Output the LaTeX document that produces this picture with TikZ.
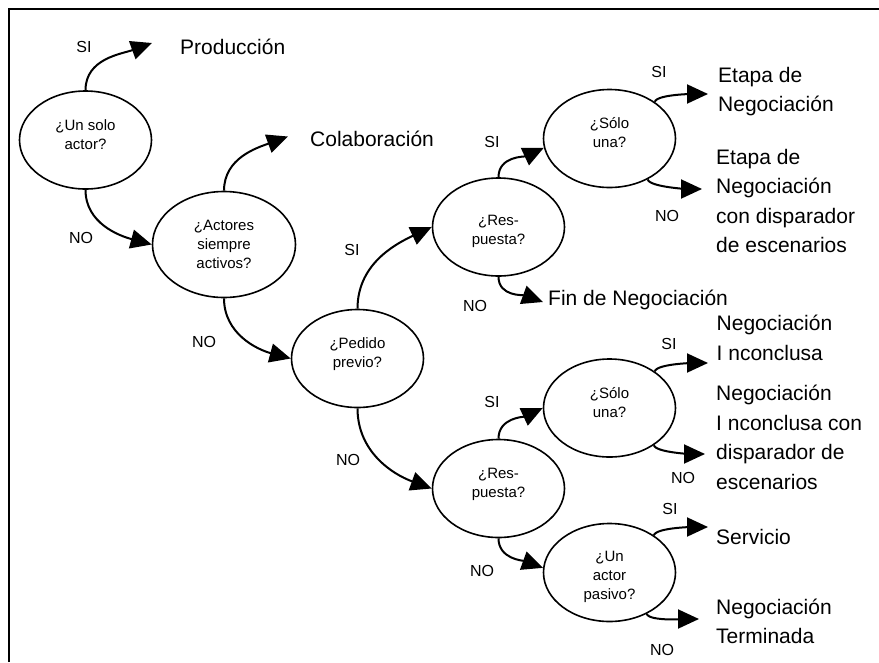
\documentclass[tikz,border=0pt]{standalone}
\usepackage{fontspec}
\setmainfont{Liberation Sans}
\usetikzlibrary{shapes.geometric,arrows.meta}
\begin{document}
\begin{tikzpicture}[x=1pt,y=1pt,
 ell/.style={ellipse,draw,line width=1.6pt,minimum width=132pt,minimum height=98pt,inner sep=0pt,text height=20pt,font=\fontsize{15}{19}\selectfont},
 outc/.style={anchor=base west,inner sep=0pt,font=\fontsize{21}{29.5}\selectfont},
 lab/.style={inner sep=0pt,font=\fontsize{16}{19}\selectfont},
 arr/.style={line width=2pt,-{Triangle[length=21pt,width=19pt]}},
 frameline/.style={line width=2pt}]
\useasboundingbox (0,-662) rectangle (879,0);
\draw[frameline] (9.2,-662) -- (9.2,-9.3) -- (879,-9.3);

% decision ellipses
\node[ell,text depth=38.6pt] (e1) at (85.5,-140) {\begin{tabular}[t]{@{}c@{}}¿Un solo\\actor?\end{tabular}};
\node[ell,minimum width=143pt,minimum height=106pt,text depth=49pt] (e2) at (224,-244.5) {\begin{tabular}[t]{@{}c@{}}¿Actores\\siempre\\activos?\end{tabular}};
\node[ell,text depth=41pt] (e3) at (357.5,-358.5) {\begin{tabular}[t]{@{}c@{}}¿Pedido\\previo?\end{tabular}};
\node[ell,text depth=24pt] (e4) at (498.5,-227) {\begin{tabular}[t]{@{}c@{}}¿Res-\\puesta?\end{tabular}};
\node[ell,text depth=41pt] (e5) at (609.5,-138.5) {\begin{tabular}[t]{@{}c@{}}¿Sólo\\una?\end{tabular}};
\node[ell,text depth=40.4pt] (e6) at (498.5,-488.5) {\begin{tabular}[t]{@{}c@{}}¿Res-\\puesta?\end{tabular}};
\node[ell,text depth=39.4pt] (e7) at (609.5,-408) {\begin{tabular}[t]{@{}c@{}}¿Sólo\\una?\end{tabular}};
\node[ell,text depth=41.6pt] (e8) at (609.5,-572.5) {\begin{tabular}[t]{@{}c@{}}¿Un\\actor\\pasivo?\end{tabular}};

% outcomes
\node[outc] (prod) at (180,-54) {Producción};
\node[outc] (colab) at (310,-146) {Colaboración};
\node[outc] (etapa1) at (718,-82) {\begin{tabular}[t]{@{}l@{}}Etapa de\\Negociación\end{tabular}};
\node[outc] (etapa2) at (716,-164.3) {\begin{tabular}[t]{@{}l@{}}Etapa de\\Negociación\\con disparador\\de escenarios\end{tabular}};
\node[outc] (fin) at (548,-305.7) {Fin de Negociación};
\node[outc] (inc1) at (716.5,-330.7) {\begin{tabular}[t]{@{}l@{}}Negociación\\I nconclusa\end{tabular}};
\node[outc] (inc2) at (716,-400.7) {\begin{tabular}[t]{@{}l@{}}Negociación\\I nconclusa con\\disparador de\\escenarios\end{tabular}};
\node[outc] (serv) at (716,-544) {Servicio};
\node[outc] (term) at (716,-614) {\begin{tabular}[t]{@{}l@{}}Negociación\\Terminada\end{tabular}};

% arrow tips near outcomes
\coordinate (tp) at (152,-43);
\coordinate (tc) at (288,-136.5);
\coordinate (tf) at (543,-302);
\coordinate (te1) at (708,-94);
\coordinate (te2) at (702,-189);
\coordinate (ti1) at (708,-363);
\coordinate (ti2) at (705,-454);
\coordinate (ts) at (708,-527);
\coordinate (tt) at (699,-619);

% connectors
\draw[arr] (e1.north) to[out=90,in=200] (tp);
\draw[arr] (e1.south) to[out=-90,in=165] (e2.west);
\draw[arr] (e2.north) to[out=90,in=200] (tc);
\draw[arr] (e2.south) to[out=-90,in=165] (e3.west);
\draw[arr] (e3.north) to[out=90,in=205] (e4.west);
\draw[arr] (e3.south) to[out=-90,in=160] (e6.west);
\draw[arr] (e4.north) to[out=90,in=205] (e5.188);
\draw[arr] (e4.south) to[out=-90,in=160] (tf);
\draw[arr] (e5.39) to[out=75,in=180,looseness=0.4] (te1);
\draw[arr] (e5.-47) to[out=-75,in=180,looseness=0.4] (te2);
\draw[arr] (e6.north) to[out=90,in=205] (e7.west);
\draw[arr] (e6.south) to[out=-90,in=160] (e8.176);
\draw[arr] (e7.39) to[out=75,in=180,looseness=0.4] (ti1);
\draw[arr] (e7.-40) to[out=-75,in=180,looseness=0.4] (ti2);
\draw[arr] (e8.40) to[out=75,in=180,looseness=0.4] (ts);
\draw[arr] (e8.-48) to[out=-75,in=180,looseness=0.4] (tt);

% labels
\node[lab] (l1) at (84,-47) {SI};
\node[lab] (l2) at (81,-238) {NO};
\node[lab] (l3) at (204,-342) {NO};
\node[lab] (l4) at (352,-250) {SI};
\node[lab] (l5) at (348,-460) {NO};
\node[lab] (l6) at (492,-142) {SI};
\node[lab] (l7) at (475,-306) {NO};
\node[lab] (l8) at (659,-72) {SI};
\node[lab] (l9) at (667,-216) {NO};
\node[lab] (l10) at (492,-402) {SI};
\node[lab] (l11) at (482,-571) {NO};
\node[lab] (l12) at (669,-344) {SI};
\node[lab] (l13) at (683,-478) {NO};
\node[lab] (l14) at (670,-509) {SI};
\node[lab] (l15) at (662,-650) {NO};
\end{tikzpicture}
\end{document}
